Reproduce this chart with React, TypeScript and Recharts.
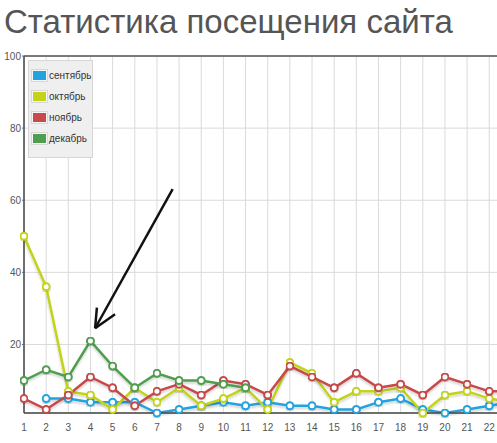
import { CartesianGrid, Line, LineChart, ReferenceLine, XAxis, YAxis } from "recharts"

const days = [1, 2, 3, 4, 5, 6, 7, 8, 9, 10, 11, 12, 13, 14, 15, 16, 17, 18, 19, 20, 21, 22, 23]
const xTicks = [1, 2, 3, 4, 5, 6, 7, 8, 9, 10, 11, 12, 13, 14, 15, 16, 17, 18, 19, 20, 21, 22]
const september = [null, 5, 5, 4, 4, 4, 1, 2, 3, 4, 3, 4, 3, 3, 2, 2, 4, 5, 2, 1, 2, 3, 4]
const october = [50, 36, 7, 6, 2, 8, 4, 8, 3, 5, 8, 2, 15, 12, 4, 7, 7, 8, 1, 6, 7, 5, 4]
const november = [5, 2, 6, 11, 8, 3, 7, 9, 6, 10, 9, 6, 14, 11, 8, 12, 8, 9, 6, 11, 9, 7, 7]
const december = [10, 13, 11, 21, 14, 8, 12, 10, 10, 9, 8, null, null, null, null, null, null, null, null, null, null, null, null]
const yTicks = [20, 40, 60, 80, 100]

const series = [
  { key: "sep", name: "сентябрь", color: "#22a3e0", values: september },
  { key: "oct", name: "октябрь", color: "#c3d31a", values: october },
  { key: "nov", name: "ноябрь", color: "#c84a4a", values: november },
  { key: "dec", name: "декабрь", color: "#4f9e4f", values: december },
]

// hand drawn arrow pointing at the 4th day, in data units
const arrowShaft = [{ x: 7.71, y: 63.1 }, { x: 4.21, y: 24.5 }]
const arrowWingA = [{ x: 4.21, y: 24.5 }, { x: 4.29, y: 30.2 }]
const arrowWingB = [{ x: 4.21, y: 24.5 }, { x: 5.11, y: 28.4 }]

const data = days.map((day, i) => {
  const row: Record<string, number | null> = { day }
  series.forEach((s) => {
    row[s.key] = s.values[i]
  })
  return row
})

const font = "'Liberation Sans', Arial, sans-serif"

const LegendBox = () => (
  <div
    style={{
      position: "absolute",
      left: 28,
      top: 60,
      width: 63,
      height: 92,
      background: "#efefef",
      border: "1px solid #d6d6d6",
      paddingTop: 4,
      boxSizing: "content-box",
    }}
  >
    {series.map((s) => (
      <div key={s.key} style={{ display: "flex", alignItems: "center", height: 21, marginLeft: 2 }}>
        <div style={{ border: "1px solid #d8d8d8", padding: 1, background: "#f6f6f6" }}>
          <div style={{ width: 13, height: 9, background: s.color }} />
        </div>
        <span style={{ fontFamily: font, fontSize: 10, color: "#333", marginLeft: 1 }}>{s.name}</span>
      </div>
    ))}
  </div>
)

export default function App() {
  return (
    <div
      style={{
        position: "absolute",
        left: 0,
        top: 0,
        width: 497,
        height: 443,
        overflow: "hidden",
        background: "#fff",
      }}
    >
      <div
        style={{
          position: "absolute",
          left: 4,
          top: 3,
          fontFamily: font,
          fontSize: 33,
          color: "#555",
          whiteSpace: "nowrap",
        }}
      >
        Статистика посещения сайта
      </div>
      <LineChart width={530} height={443} data={data} margin={{ top: 56, right: 18.6, bottom: 0, left: 0 }}>
        <defs>
          <filter id="shadow" x="-5%" y="-5%" width="110%" height="120%">
            <feDropShadow dx="0" dy="2" stdDeviation="1" floodColor="#000" floodOpacity="0.18" />
          </filter>
        </defs>
        <CartesianGrid stroke="#dadada" strokeWidth={1} />
        <XAxis
          dataKey="day"
          type="number"
          domain={[1, 23]}
          ticks={xTicks}
          interval={0}
          height={30}
          tickSize={0}
          tickMargin={11}
          axisLine={{ stroke: "#444", strokeWidth: 1.5 }}
          tick={{ fill: "#555", fontSize: 10, fontFamily: font }}
        />
        <YAxis
          type="number"
          domain={[1, 100]}
          ticks={yTicks}
          width={24}
          tickSize={2}
          tickMargin={1}
          axisLine={{ stroke: "#444", strokeWidth: 1.5 }}
          tickLine={{ stroke: "#666" }}
          tick={{ fill: "#555", fontSize: 10, fontFamily: font }}
        />
        <ReferenceLine y={100} stroke="#555" strokeWidth={1.5} />
        {series.map((s) => (
          <Line
            key={s.key}
            dataKey={s.key}
            name={s.name}
            type="linear"
            stroke={s.color}
            strokeWidth={2.5}
            filter="url(#shadow)"
            dot={{ r: 3.5, fill: "#fff", stroke: s.color, strokeWidth: 2 }}
            activeDot={false}
            isAnimationActive={false}
          />
        ))}
        <ReferenceLine segment={arrowShaft} stroke="#111" strokeWidth={2.5} ifOverflow="visible" />
        <ReferenceLine segment={arrowWingA} stroke="#111" strokeWidth={2.5} ifOverflow="visible" />
        <ReferenceLine segment={arrowWingB} stroke="#111" strokeWidth={2.5} ifOverflow="visible" />
      </LineChart>
      <LegendBox />
    </div>
  )
}
